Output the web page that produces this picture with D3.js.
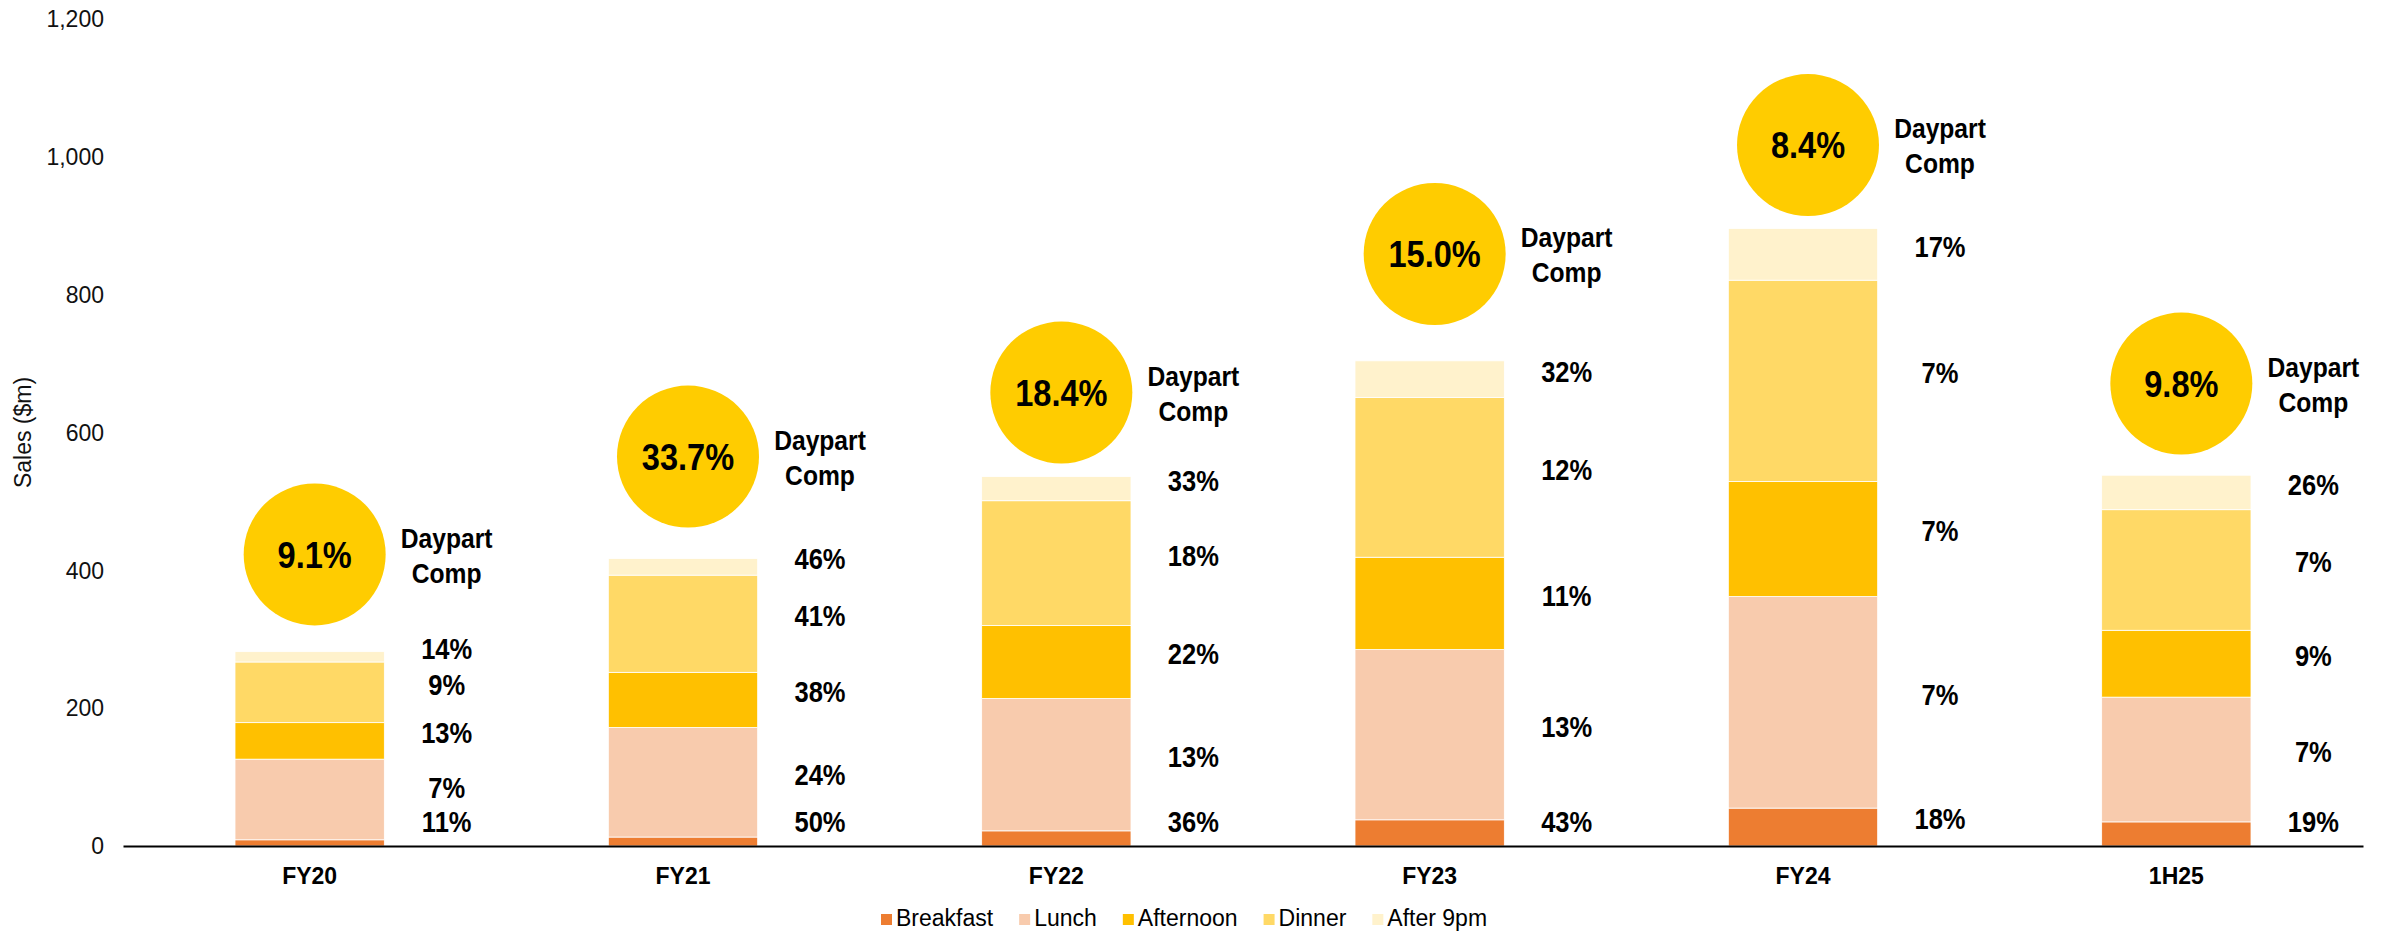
<!DOCTYPE html>
<html>
<head>
<meta charset="utf-8">
<script src="https://cdn.jsdelivr.net/npm/d3@7"></script>
<style>
  body { margin:0; background:#fff; }
  svg { display:block; }
</style>
</head>
<body>
<div id="chart"></div>
<script>
// Sales by daypart ($m)
const YEARS     = ["FY20","FY21","FY22","FY23","FY24","1H25"];
const DAYPARTS  = ["Breakfast","Lunch","Afternoon","Dinner","After 9pm"];
const breakfast = [9, 13, 22, 38, 55, 35];
const lunch     = [117, 159, 192, 247, 307, 181];
const afternoon = [53, 80, 106, 134, 167, 97];
const dinner    = [88, 141, 181, 232, 292, 175];
const after9pm  = [15, 24, 35, 53, 75, 50];

// growth % printed beside each segment
const breakfastGrowth = [11, 50, 36, 43, 18, 19];
const lunchGrowth     = [7, 24, 13, 13, 7, 7];
const afternoonGrowth = [13, 38, 22, 11, 7, 9];
const dinnerGrowth    = [9, 41, 18, 12, 7, 7];
const after9pmGrowth  = [14, 46, 33, 32, 17, 26];

// daypart comp bubbles: value and the sales level the bubble sits at
const compValues = ["9.1%","33.7%","18.4%","15.0%","8.4%","9.8%"];
const compLevel  = [423, 565, 658, 859, 1017, 671];

const Y_TICKS = [0, 200, 400, 600, 800, 1000, 1200];

const colors = {
  "Breakfast":"#ED7D31", "Lunch":"#F8CBAD", "Afternoon":"#FFC000",
  "Dinner":"#FFD966", "After 9pm":"#FFF2CC"
};
const SANS = 'Arial, "Liberation Sans", Helvetica, sans-serif';
const SQUEEZE = 0.88;   // fake a condensed bold face

const seriesByPart = {
  "Breakfast":[breakfast, breakfastGrowth], "Lunch":[lunch, lunchGrowth],
  "Afternoon":[afternoon, afternoonGrowth], "Dinner":[dinner, dinnerGrowth],
  "After 9pm":[after9pm, after9pmGrowth]
};
const rows = YEARS.map((yr, i) => {
  const r = { year: yr, idx: i };
  DAYPARTS.forEach(p => { r[p] = seriesByPart[p][0][i]; });
  return r;
});

const totalW = 2382, totalH = 931;
const svg = d3.select("#chart").append("svg").attr("width", totalW).attr("height", totalH);

const x = d3.scaleBand().domain(YEARS).range([123, 2363]).paddingInner(0.6).paddingOuter(0.3);
const y = d3.scaleLinear().domain([0, 1200]).range([846, 19]);

const series = d3.stack().keys(DAYPARTS)(rows);

function narrowText(px, py, size, txt) {
  return svg.append("text").attr("transform", `translate(${px},${py}) scale(${SQUEEZE},1)`)
    .attr("dy", "0.36em").attr("text-anchor", "middle")
    .style("font-family", SANS).style("font-size", size + "px").style("font-weight", "bold")
    .attr("fill", "#000").text(txt);
}

// y tick labels (no axis line)
svg.append("g").selectAll("text").data(Y_TICKS).enter().append("text")
  .attr("x", 104).attr("y", d => y(d)).attr("dy", "0.36em")
  .attr("text-anchor", "end").style("font-family", SANS).style("font-size", "23px")
  .attr("fill", "#111").text(d => d3.format(",")(d));

svg.append("text").attr("transform", `translate(31,${y(600)}) rotate(-90)`)
  .attr("text-anchor", "middle").style("font-family", SANS).style("font-size", "23px")
  .attr("fill", "#111").text("Sales ($m)");

// stacked bars
svg.selectAll(".part").data(series).enter().append("g").attr("fill", d => colors[d.key])
  .selectAll("rect").data(d => d).enter().append("rect")
    .attr("x", d => x(d.data.year)).attr("width", x.bandwidth())
    .attr("y", d => y(d[1])).attr("height", d => Math.max(0, y(d[0]) - y(d[1])))
    .attr("stroke", "#fff").attr("stroke-width", 0.8);

// x axis
const xAxis = svg.append("g").attr("transform", `translate(0,${y(0)})`)
  .call(d3.axisBottom(x).tickSize(0).tickPadding(22));
xAxis.select(".domain").attr("stroke", "#000").attr("stroke-width", 2);
xAxis.selectAll("text").style("font-family", SANS).style("font-size", "23px")
  .style("font-weight", "bold").attr("fill", "#000");

// growth labels beside each bar, nudged apart so they don't collide
const LABEL_DX = 137, MIN_GAP = 34, BOTTOM_MAX = 822;
YEARS.forEach((yr, i) => {
  const cx = x(yr) + x.bandwidth() / 2 + LABEL_DX;
  let prev = null;
  series.forEach(s => {
    const seg = s[i];
    let pos = y((seg[0] + seg[1]) / 2) - 8;
    if (prev === null) pos = Math.min(pos, BOTTOM_MAX);
    else pos = Math.min(pos, prev - MIN_GAP);
    prev = pos;
    narrowText(cx, pos, 29, seriesByPart[s.key][1][i] + "%");
  });
});

// daypart comp bubbles
YEARS.forEach((yr, i) => {
  const bx = x(yr) + x.bandwidth() / 2;
  const cy = y(compLevel[i]);
  svg.append("circle").attr("cx", bx + 5).attr("cy", cy).attr("r", 71).attr("fill", "#FFCC00");
  narrowText(bx + 5, cy, 37, compValues[i]);
  narrowText(bx + LABEL_DX, cy - 17, 28, "Daypart");
  narrowText(bx + LABEL_DX, cy + 18, 28, "Comp");
});

// legend
const legend = svg.append("g");
let lx = 881;
DAYPARTS.forEach(p => {
  legend.append("rect").attr("x", lx).attr("y", 914).attr("width", 11).attr("height", 11).attr("fill", colors[p]);
  const t = legend.append("text").attr("x", lx + 15).attr("y", 926)
    .style("font-family", SANS).style("font-size", "23px").attr("fill", "#000").text(p);
  lx += 15 + t.node().getComputedTextLength() + 26;
});
</script>
</body>
</html>
